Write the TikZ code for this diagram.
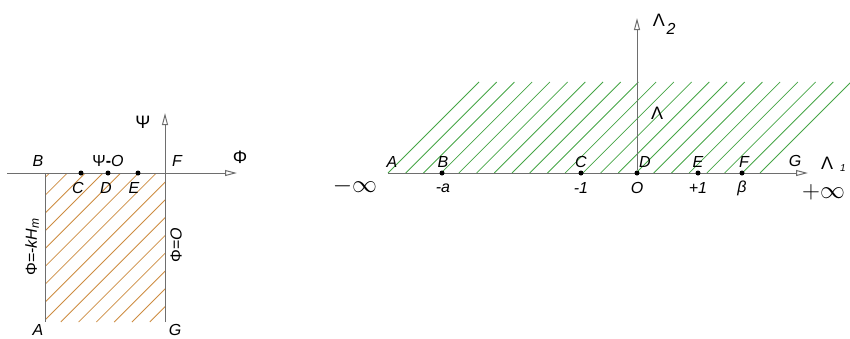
\documentclass[tikz,border=0pt]{standalone}
\usepackage{fontspec}
\setmainfont{Liberation Sans}
\usetikzlibrary{arrows.meta}
\definecolor{axisgray}{RGB}{110,110,110}
\definecolor{hatchorange}{RGB}{205,140,65}
\definecolor{hatchgreen}{RGB}{70,165,70}
\begin{document}
\begin{tikzpicture}[x=1pt,y=-1pt,
  axis/.style={draw=axisgray, line width=1pt, -{Triangle[open,length=12pt,width=6pt]}},
  edgeline/.style={draw=axisgray, line width=1pt},
  hatchO/.style={draw=hatchorange, line width=0.8pt},
  hatchG/.style={draw=hatchgreen, line width=0.8pt},
  dot/.style={circle, fill=black, inner sep=0pt, minimum size=5pt},
  lbl/.style={font=\fontsize{16}{18}\selectfont\itshape, inner sep=0pt},
  sym/.style={font=\fontsize{16}{18}\selectfont, inner sep=0pt},
  bigsym/.style={font=\fontsize{18}{20}\selectfont, inner sep=0pt},
  infsym/.style={font=\fontsize{24}{26}\selectfont, inner sep=0pt},
]
\useasboundingbox (0,0) rectangle (850,338);

% ---------- left figure ----------
\begin{scope}
  \clip (45,173) rectangle (165,322);
  \foreach \k in {-9,...,8} {
    \pgfmathsetmacro{\c}{365+\k*17.8}
    \draw[hatchO] ({\c-322},322) -- ({\c-173},173);
  }
\end{scope}
\coordinate (LB) at (45,173);
\coordinate (LA) at (45,322);
\coordinate (LG) at (165,322);
\coordinate (LX0) at (7,173);
\coordinate (LX1) at (237,173);
\coordinate (LY1) at (165,113);
\draw[edgeline] (LB) -- (LA);
\draw[axis] (LX0) -- (LX1);
\draw[axis] (LG) -- (LY1);
\node[dot] (LC) at (81,173) {};
\node[dot] (LD) at (108,173) {};
\node[dot] (LE) at (138,173) {};

\node[lbl] (tB) at (38,161) {B};
\node[lbl] (tF) at (177,161) {F};
\node[lbl] (tC) at (78,188) {C};
\node[lbl] (tD) at (106,188) {D};
\node[lbl] (tE) at (134,188) {E};
\node[lbl] (tA) at (38,330) {A};
\node[lbl] (tG) at (175,330) {G};
\node[sym] (tPsi0) at (108,161) {Ψ\textbf{-}\textit{O}};
\node[bigsym] (tPhi) at (240,157) {Φ};
\node[bigsym] (tPsi) at (143,122) {Ψ};
\node[sym, rotate=90] (tPhiK) at (32,247) {Φ=-\textit{kH}\raisebox{-2pt}{\textit{\fontsize{12}{14}\selectfont m}}};
\node[sym, rotate=90] (tPhi0) at (176,245) {Φ=\textit{O}};

% ---------- right figure ----------
\foreach \k in {0,...,21} {
  \pgfmathsetmacro{\c}{561+\k*17.714}
  \draw[hatchG] ({\c-173},173) -- ({\c-82},82);
}
\coordinate (RA) at (388,173);
\coordinate (RX1) at (808,173);
\coordinate (RY1) at (637,18);
\draw[axis] (RA) -- (RX1);
\node[dot] (RB) at (442,173) {};
\node[dot] (RC) at (581,173) {};
\node[dot] (RD) at (637,173) {};
\node[dot] (RE) at (698,173) {};
\node[dot] (RF) at (742,173) {};
\draw[axis] (RD) -- (RY1);

\node[lbl] (uA) at (392,162) {A};
\node[lbl] (uB) at (443,162) {B};
\node[lbl] (uC) at (581,162) {C};
\node[lbl] (uD) at (645,162) {D};
\node[lbl] (uE) at (698,162) {E};
\node[lbl] (uF) at (744,162) {F};
\node[lbl] (uG) at (795,161) {G};

\node[lbl] (vB) at (443,188) {-a};
\node[lbl] (vC) at (581,188) {-1};
\node[lbl] (vD) at (637,188) {O};
\node[lbl] (vE) at (698,188) {+1};
\node[lbl] (vF) at (742,188) {β};
\node[infsym] (vminf) at (355,186) {$-\infty$};
\node[infsym, anchor=west] (vpinf) at (802,192) {$+\infty$};

\node[bigsym] (L1) at (827,163) {Λ};
\node[lbl, font=\fontsize{10}{12}\selectfont\itshape] (L1s) at (843,168) {1};
\node[bigsym] (L2) at (659,20) {Λ};
\node[lbl] (L2s) at (671,29) {2};
\node[bigsym] (Lm) at (657,113) {Λ};
\end{tikzpicture}
\end{document}
